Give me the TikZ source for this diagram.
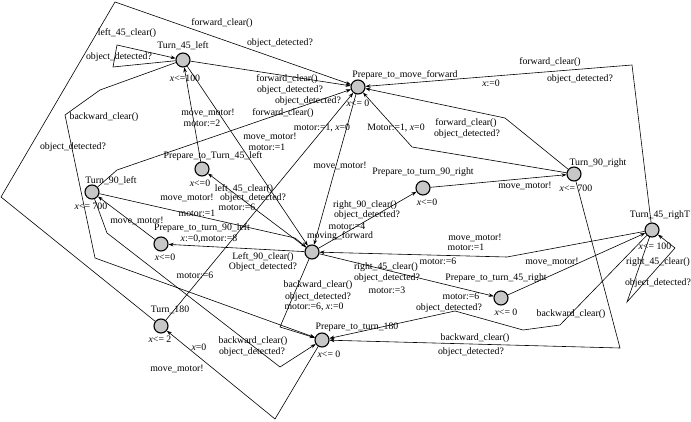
\documentclass[tikz,border=0pt]{standalone}
\usepackage{fontspec}
\setmainfont{Liberation Serif}
\usetikzlibrary{arrows.meta}

\begin{document}
\begin{tikzpicture}[
  x=1pt, y=-1pt,
  font=\fontsize{9.8}{11}\selectfont,
  loc/.style={circle, draw, line width=1.1pt, fill=black!22, minimum size=14pt, inner sep=0pt},
  lbl/.style={inner sep=0pt},
  arr/.style={-{Stealth[length=5pt, width=3.6pt]}, line width=0.6pt}
]
\useasboundingbox (0,0) rectangle (691,422);

% locations
\node[loc] (t45l) at (183,60) {};
\node[loc] (pmf) at (358,87) {};
\node[loc] (pt45l) at (202,169) {};
\node[loc] (t90l) at (92,192) {};
\node[loc] (pt90l) at (161,244) {};
\node[loc] (mf) at (312,252) {};
\node[loc] (pt90r) at (423,188) {};
\node[loc] (t90r) at (574,174) {};
\node[loc] (t45r) at (652,230) {};
\node[loc] (pt45r) at (501,298) {};
\node[loc] (pt180) at (322,340) {};
\node[loc] (t180) at (161,326) {};

% names and invariants
\node[lbl] (t45l-n) at (183,46) {Turn\_45\_left};
\node[lbl] (t45l-i) at (185,78) {\textit{x}<=100};
\node[lbl] (pmf-n) at (405,75) {Prepare\_to\_move\_forward};
\node[lbl] (pmf-i) at (358,103) {\textit{x}<= 0};
\node[lbl] (pt45l-n) at (213,156) {Prepare\_to\_Turn\_45\_left};
\node[lbl] (pt45l-i) at (200,183) {\textit{x}<=0};
\node[lbl] (t90l-n) at (111,181) {Turn\_90\_left};
\node[lbl] (t90l-i) at (91,206) {\textit{x}<= 700};
\node[lbl] (pt90l-n) at (202,228) {Prepare\_to\_turn\_90\_left};
\node[lbl] (pt90l-i) at (165,257) {\textit{x}<=0};
\node[lbl] (mf-n) at (340,236) {moving\_forward};
\node[lbl] (pt90r-n) at (423,172) {Prepare\_to\_turn\_90\_right};
\node[lbl] (pt90r-i) at (427,202) {\textit{x}<=0};
\node[lbl] (t90r-n) at (598,163) {Turn\_90\_right};
\node[lbl] (t90r-i) at (576,188) {\textit{x}<= 700};
\node[lbl] (t45r-n) at (660,215) {Turn\_45\_righT};
\node[lbl] (t45r-i) at (655,246) {\textit{x}<= 100};
\node[lbl] (pt45r-n) at (496,278) {Prepare\_to\_turn\_45\_right};
\node[lbl] (pt45r-i) at (506,312) {\textit{x}<= 0};
\node[lbl] (pt180-n) at (357,327) {Prepare\_to\_turn\_180};
\node[lbl] (pt180-i) at (329,354) {\textit{x}<= 0};
\node[lbl] (t180-n) at (170,310) {Turn\_180};
\node[lbl] (t180-i) at (160,339) {\textit{x}<= 2};

% edges
\draw[arr] (t45l) -- (113,67) -- (117,45) -- (t45l);
\draw[arr] (t45l) -- (100,90) -- (65,115) -- (95,258) -- (pt180);
\draw[arr] (t45l) -- (pmf);
\draw[arr] (t45l) -- (mf);
\draw[arr] (pt45l) -- (t45l);
\draw[arr] (mf) -- (pt45l);
\draw[arr] (t90l) -- (117,170) -- (pmf);
\draw[arr] (t90l) -- (295,238) -- (mf);
\draw[arr] (t90l) -- (107,233) -- (280,367) -- (pt180);
\draw[arr] (pt90l) -- (t90l);
\draw[arr] (mf) -- (pt90l);
\draw[arr] (mf) -- (pt90r);
\draw[arr] (pt90r) -- (t90r);
\draw[arr] (t90r) -- (505,118) -- (pmf);
\draw[arr] (t90r) -- (412,147) -- (pmf);
\draw[arr] (t90r) -- (620,348) -- (pt180);
\draw[arr] (mf) -- (pt45r);
\draw[arr] (pt45r) -- (t45r);
\draw[arr] (t45r) -- (507,257) -- (mf);
\draw[arr] (t45r) -- (627,302) -- (675,248) -- (t45r);
\draw[arr] (t45r) -- (632,65) -- (pmf);
\draw[arr] (t45r) -- (560,325) -- (523,330) -- (455,311) -- (pt180);
\draw[arr] (mf) -- (280,327) -- (pt180);
\draw[arr] (pmf) -- (mf);
\draw[arr] (t180) -- (pmf);
\draw[arr] (t180) -- (1,197) -- (115,2) -- (pmf);
\draw[arr] (pt180) -- (275,419) -- (t180);

% edge labels
\node[lbl] (e1) at (127,33) {left\_45\_clear()};
\node[lbl] (e2) at (119,57) {object\_detected?};
\node[lbl] (e3) at (222,23) {forward\_clear()};
\node[lbl] (e4) at (280,43) {object\_detected?};
\node[lbl] (e5) at (287,79) {forward\_clear()};
\node[lbl] (e6) at (290,90) {object\_detected?};
\node[lbl] (e7) at (308,101) {object\_detected?};
\node[lbl] (e8) at (283,113) {forward\_clear()};
\node[lbl] (e9) at (322,128) {motor:=1, \textit{x}=0};
\node[lbl] (e10) at (396,128) {Motor:=1, \textit{x}=0};
\node[lbl] (e11) at (466,123) {forward\_clear()};
\node[lbl] (e12) at (467,134) {object\_detected?};
\node[lbl] (e13) at (550,62) {forward\_clear()};
\node[lbl] (e14) at (491,83) {\textit{x}:=0};
\node[lbl] (e15) at (580,79) {object\_detected?};
\node[lbl] (e16) at (208,113) {move\_motor!};
\node[lbl] (e17) at (202,123) {motor:=2};
\node[lbl] (e18) at (270,137) {move\_motor!};
\node[lbl] (e19) at (267,147) {motor:=1};
\node[lbl] (e20) at (340,166) {move\_motor!};
\node[lbl] (e21) at (73,147) {object\_detected?};
\node[lbl] (e22) at (104,117) {backward\_clear()};
\node[lbl] (e23) at (187,198) {move\_motor!};
\node[lbl] (e24) at (197,213) {motor:=1};
\node[lbl] (e25) at (244,189) {left\_45\_clear()};
\node[lbl] (e26) at (253,198) {object\_detected?};
\node[lbl] (e27) at (237,207) {motor:=6};
\node[lbl] (e28) at (137,221) {move\_motor!};
\node[lbl] (e29) at (209,239) {\textit{x}:=0,motor:=8};
\node[lbl] (e30) at (263,257) {Left\_90\_clear()};
\node[lbl] (e31) at (263,267) {Object\_detected?};
\node[lbl] (e32) at (195,275) {motor:=6};
\node[lbl] (e33) at (365,205) {right\_90\_clear()};
\node[lbl] (e34) at (367,215) {object\_detected?};
\node[lbl] (e35) at (347,226) {motor:=4};
\node[lbl] (e36) at (525,186) {move\_motor!};
\node[lbl] (e37) at (475,238) {move\_motor!};
\node[lbl] (e38) at (466,247) {motor:=1};
\node[lbl] (e39) at (438,261) {motor:=6};
\node[lbl] (e40) at (386,267) {right\_45\_clear()};
\node[lbl] (e41) at (387,278) {object\_detected?};
\node[lbl] (e42) at (387,290) {motor:=3};
\node[lbl] (e43) at (552,262) {move\_motor!};
\node[lbl] (e44) at (658,262) {right\_45\_clear()};
\node[lbl] (e45) at (658,283) {object\_detected?};
\node[lbl] (e46) at (571,314) {backward\_clear()};
\node[lbl] (e47) at (461,296) {motor:=6};
\node[lbl] (e48) at (449,308) {object\_detected?};
\node[lbl] (e49) at (475,338) {backward\_clear()};
\node[lbl] (e50) at (471,352) {object\_detected?};
\node[lbl] (e51) at (318,285) {backward\_clear()};
\node[lbl] (e52) at (318,297) {object\_detected?};
\node[lbl] (e53) at (314,307) {motor:=6, \textit{x}:=0};
\node[lbl] (e54) at (253,341) {backward\_clear()};
\node[lbl] (e55) at (252,352) {object\_detected?};
\node[lbl] (e56) at (199,347) {\textit{x}=0};
\node[lbl] (e57) at (177,369) {move\_motor!};
\end{tikzpicture}
\end{document}
